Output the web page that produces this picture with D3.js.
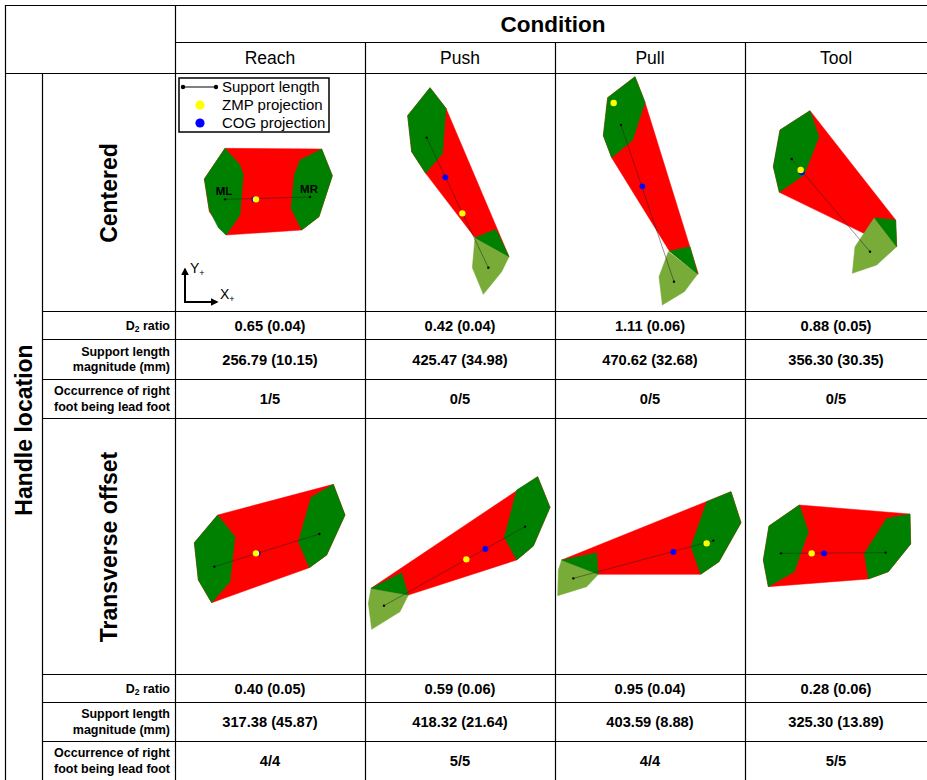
<!DOCTYPE html>
<html>
<head>
<meta charset="utf-8">
<script src="https://cdn.jsdelivr.net/npm/d3@7"></script>
<style>
  body { margin: 0; background: #fff; }
  text { font-family: "Liberation Sans", Arial, sans-serif; fill: #000; }
</style>
</head>
<body>
<svg id="chart" width="927" height="780"></svg>
<script>
// ------------------------------- DATA below ----------------------------------------------

const conditions = ['Reach', 'Push', 'Pull', 'Tool'];
const locations = ['Centered', 'Transverse offset'];

// table values, [location][condition]
const d2Mean = [[0.65, 0.42, 1.11, 0.88], [0.40, 0.59, 0.95, 0.28]];
const d2Sd = [[0.04, 0.04, 0.06, 0.05], [0.05, 0.06, 0.04, 0.06]];
const supportMean = [[256.79, 425.47, 470.62, 356.30], [317.38, 418.32, 403.59, 325.30]];
const supportSd = [[10.15, 34.98, 32.68, 30.35], [45.87, 21.64, 8.88, 13.89]];
const leadFoot = [['1/5', '0/5', '0/5', '0/5'], ['4/4', '5/5', '4/4', '5/5']];

// foot plane drawings, in mm from each cell's top-left corner (y pointing down the page)
// support polygon (red)
const supportPoly = [
  [
    [[150, 220], [440, 222], [472, 302], [432, 425], [380, 465], [153, 480], [103, 410], [88, 312]],
    [[195, 38], [243, 100], [432, 545], [330, 488], [182, 295], [140, 230], [128, 122]],
    [[240, 5], [270, 82], [430, 597], [343, 528], [170, 248], [145, 182], [158, 68]],
    [[195, 107], [452, 435], [455, 515], [350, 472], [103, 352], [85, 275], [105, 165]]
  ],
  [
    [[128, 285], [475, 193], [510, 285], [455, 405], [403, 443], [110, 548], [70, 480], [58, 368]],
    [[18, 505], [518, 170], [555, 262], [505, 378], [455, 420], [130, 525]],
    [[20, 420], [528, 215], [558, 308], [492, 425], [437, 463], [130, 463]],
    [[163, 255], [495, 282], [497, 372], [430, 455], [370, 477], [70, 500], [55, 420], [72, 318]]
  ]
];

// foot areas in contact (dark green)
const contactFeet = [
  [
    [[[150, 220], [195, 270], [205, 300], [195, 420], [153, 480], [130, 458], [103, 405], [88, 312]],
     [[375, 255], [440, 222], [472, 302], [432, 425], [380, 465], [348, 400], [358, 300]]],
    [[[195, 38], [243, 100], [233, 235], [182, 295], [140, 230], [128, 122]],
     [[330, 488], [393, 463], [432, 545]]],
    [[[240, 5], [270, 82], [233, 195], [170, 248], [145, 182], [158, 68]],
     [[343, 528], [405, 515], [428, 597]]],
    [[[195, 107], [222, 185], [177, 300], [103, 352], [85, 275], [105, 165]],
     [[388, 428], [452, 435], [455, 515]]]
  ],
  [
    [[[128, 285], [180, 350], [165, 485], [110, 548], [70, 480], [58, 368]],
     [[475, 193], [510, 285], [455, 405], [403, 443], [370, 365], [408, 232]]],
    [[[455, 210], [518, 170], [555, 262], [505, 378], [455, 420], [418, 352]],
     [[18, 505], [110, 458], [130, 525]]],
    [[[455, 245], [528, 215], [558, 308], [492, 425], [437, 463], [408, 380]],
     [[20, 420], [125, 398], [130, 463]]],
    [[[163, 255], [190, 335], [148, 455], [70, 500], [55, 420], [72, 318]],
     [[425, 295], [495, 282], [497, 372], [430, 455], [370, 477], [358, 400]]]
  ]
];

// lifted part of the trailing foot (light green)
const liftFeet = [
  [
    [],
    [[[330, 488], [432, 545], [410, 590], [355, 658], [322, 578]]],
    [[[340, 530], [428, 597], [388, 650], [322, 690], [312, 605]]],
    [[[388, 428], [455, 515], [395, 570], [322, 595], [330, 515]]]
  ],
  [
    [],
    [[[18, 505], [130, 525], [105, 575], [20, 628], [10, 550]]],
    [[[20, 420], [130, 463], [95, 500], [8, 527], [10, 450]]],
    []
  ]
];

// support length end points
const supportEnds = [
  [[[150, 373], [405, 366]], [[185, 188], [370, 578]], [[198, 150], [357, 620]], [[140, 252], [375, 530]]],
  [[[118, 440], [433, 342]], [[57, 557], [480, 320]], [[55, 475], [475, 362]], [[108, 400], [422, 398]]]
];

const zmp = [
  [[243, 373], [292, 415], [176, 84], [167, 285]],
  [[243, 400], [304, 418], [455, 370], [200, 400]]
];
const cog = [
  [[238, 373], [241, 307], [262, 334], [170, 292]],
  [[248, 400], [361, 387], [355, 396], [237, 400]]
];

// ------------------------------- LAYOUT below ----------------------------------------------

const colX = [175, 365, 555, 745, 935];
const imgRows = [[73, 311], [418, 674]];
const infoRows = [[311, 339, 379, 418], [674, 702, 741, 780]];
const mmPerPx = 3;

const svg = d3.select('#chart');
const grid = svg.append('g');
const body = svg.append('g');

// ------------------------------- DRAWINGS ----------------------------------------------

const polyLine = d3.line().curve(d3.curveLinearClosed);

locations.forEach((loc, li) => {
  conditions.forEach((cond, ci) => {
    const x = d3.scaleLinear().domain([0, mmPerPx]).range([colX[ci], colX[ci] + 1]);
    const y = d3.scaleLinear().domain([0, mmPerPx]).range([imgRows[li][0] + 2, imgRows[li][0] + 3]);
    const pt = (p) => [x(p[0]), y(p[1])];
    const g = body.append('g');

    g.append('path')
      .attr('d', polyLine(supportPoly[li][ci].map(pt)))
      .attr('fill', '#ff0000')
      .attr('stroke', '#ff0000')
      .attr('stroke-width', 0.5);

    g.selectAll('path.lift')
      .data(liftFeet[li][ci])
      .join('path')
      .attr('class', 'lift')
      .attr('d', (d) => polyLine(d.map(pt)))
      .attr('fill', '#78ab38')
      .attr('stroke', '#78ab38')
      .attr('stroke-width', 0.5);

    g.selectAll('path.contact')
      .data(contactFeet[li][ci])
      .join('path')
      .attr('class', 'contact')
      .attr('d', (d) => polyLine(d.map(pt)))
      .attr('fill', '#008000')
      .attr('stroke', '#008000')
      .attr('stroke-width', 0.5);

    const ends = supportEnds[li][ci].map(pt);
    g.append('line')
      .attr('x1', ends[0][0]).attr('y1', ends[0][1])
      .attr('x2', ends[1][0]).attr('y2', ends[1][1])
      .attr('stroke', '#222')
      .attr('stroke-opacity', 0.7)
      .attr('stroke-width', 0.7);
    g.selectAll('circle.end')
      .data(ends)
      .join('circle')
      .attr('class', 'end')
      .attr('cx', (d) => d[0])
      .attr('cy', (d) => d[1])
      .attr('r', 1.2)
      .attr('fill', '#000');

    const c = pt(cog[li][ci]);
    g.append('circle').attr('cx', c[0]).attr('cy', c[1]).attr('r', 2.9).attr('fill', '#0000ff');
    const z = pt(zmp[li][ci]);
    g.append('circle').attr('cx', z[0]).attr('cy', z[1]).attr('r', 3.2).attr('fill', '#ffff00');

    // ML / MR foot labels in the first drawing
    if (li === 0 && ci === 0) {
      g.selectAll('text.foot')
        .data(['ML', 'MR'])
        .join('text')
        .attr('class', 'foot')
        .attr('x', (d, i) => pt(supportEnds[0][0][i])[0] - 1)
        .attr('y', (d, i) => pt(supportEnds[0][0][i])[1] - 4)
        .attr('text-anchor', 'middle')
        .attr('font-size', 11.5)
        .attr('font-weight', 'bold')
        .text((d) => d);
    }
  });
});

// ------------------------------- LEGEND + AXES GLYPH ----------------------------------------------

const legend = body.append('g').attr('transform', 'translate(179,78)');
legend.append('rect').attr('width', 150).attr('height', 54)
  .attr('fill', '#fff').attr('stroke', '#000').attr('stroke-width', 1.5);
legend.append('line').attr('x1', 4).attr('x2', 37).attr('y1', 9).attr('y2', 9)
  .attr('stroke', '#000').attr('stroke-width', 1);
legend.selectAll('circle.e').data([4, 37]).join('circle')
  .attr('cx', (d) => d).attr('cy', 9).attr('r', 2.2).attr('fill', '#000');
legend.append('circle').attr('cx', 21).attr('cy', 27).attr('r', 4.6).attr('fill', '#ffff00');
legend.append('circle').attr('cx', 21).attr('cy', 45).attr('r', 4.6).attr('fill', '#0000ff');
legend.selectAll('text').data(['Support length', 'ZMP projection', 'COG projection']).join('text')
  .attr('x', 43).attr('y', (d, i) => 14 + i * 18)
  .attr('font-size', 15).text((d) => d);

const axG = body.append('g').attr('transform', 'translate(185,302)');
axG.append('defs').append('marker')
  .attr('id', 'arr').attr('viewBox', '0 0 10 10').attr('refX', 8).attr('refY', 5)
  .attr('markerWidth', 4).attr('markerHeight', 4).attr('orient', 'auto')
  .append('path').attr('d', 'M0,0L10,5L0,10Z').attr('fill', '#000');
axG.append('line').attr('x1', 0).attr('y1', 0).attr('x2', 0).attr('y2', -33)
  .attr('stroke', '#000').attr('stroke-width', 2).attr('marker-end', 'url(#arr)');
axG.append('line').attr('x1', -1).attr('y1', 0).attr('x2', 32).attr('y2', 0)
  .attr('stroke', '#000').attr('stroke-width', 2).attr('marker-end', 'url(#arr)');
[['Y', 5, -29], ['X', 35, -3]].forEach(([t, tx, ty]) => {
  const lab = axG.append('text').attr('x', tx).attr('y', ty).attr('font-size', 14).text(t);
  lab.append('tspan').attr('font-size', 9).attr('dy', 3).text('+');
});

// ------------------------------- TABLE GRID ----------------------------------------------

const hLines = [
  [5, 5, 935], [175, 42, 935], [5, 73, 935],
  [42, 311, 935], [42, 339, 935], [42, 379, 935], [42, 418, 935],
  [42, 674, 935], [42, 702, 935], [42, 741, 935]
];
grid.selectAll('line.h').data(hLines).join('line')
  .attr('x1', (d) => d[0]).attr('x2', (d) => d[2])
  .attr('y1', (d) => d[1] + 0.5).attr('y2', (d) => d[1] + 0.5)
  .attr('stroke', '#000').attr('stroke-width', 1.2);
const vLines = [[5, 5], [42, 73], [175, 5], [365, 42], [555, 42], [745, 42]];
grid.selectAll('line.v').data(vLines).join('line')
  .attr('x1', (d) => d[0] + 0.5).attr('x2', (d) => d[0] + 0.5)
  .attr('y1', (d) => d[1]).attr('y2', 780)
  .attr('stroke', '#000').attr('stroke-width', 1.2);

// ------------------------------- TABLE TEXT ----------------------------------------------

const colCenter = (i) => (colX[i] + Math.min(colX[i + 1], 927)) / 2;

svg.append('text').attr('x', 553).attr('y', 32).attr('text-anchor', 'middle')
  .attr('font-size', 22.5).attr('font-weight', 'bold').text('Condition');

svg.selectAll('text.cond').data(conditions).join('text')
  .attr('class', 'cond')
  .attr('x', (d, i) => colCenter(i)).attr('y', 64)
  .attr('text-anchor', 'middle').attr('font-size', 17.5).text((d) => d);

svg.append('text').attr('transform', 'translate(32,430) rotate(-90)')
  .attr('text-anchor', 'middle').attr('font-size', 23).attr('font-weight', 'bold')
  .text('Handle location');

svg.selectAll('text.loc').data(locations).join('text')
  .attr('class', 'loc')
  .attr('transform', (d, i) => `translate(117,${(imgRows[i][0] + imgRows[i][1]) / 2 + 1}) rotate(-90)`)
  .attr('text-anchor', 'middle').attr('font-size', 23).attr('font-weight', 'bold')
  .text((d) => d);

// row labels
const labelLines = [['D|2| ratio'], ['Support length', 'magnitude (mm)'], ['Occurrence of right', 'foot being lead foot']];
locations.forEach((loc, li) => {
  const rows = infoRows[li];
  labelLines.forEach((lines, ri) => {
    const mid = (rows[ri] + rows[ri + 1]) / 2;
    lines.forEach((ln, k) => {
      const t = svg.append('text')
        .attr('x', 170)
        .attr('y', mid + 4.5 + (k - (lines.length - 1) / 2) * 15.5)
        .attr('text-anchor', 'end').attr('font-size', 12.5).attr('font-weight', 'bold');
      if (ln.includes('|')) {
        const parts = ln.split('|');
        t.append('tspan').text(parts[0]);
        t.append('tspan').attr('font-size', 8.5).attr('dy', 2).text(parts[1]);
        t.append('tspan').attr('dy', -2).text(parts[2]);
      } else {
        t.text(ln);
      }
    });
  });

  const vals = [
    d2Mean[li].map((m, i) => `${m.toFixed(2)} (${d2Sd[li][i].toFixed(2)})`),
    supportMean[li].map((m, i) => `${m.toFixed(2)} (${supportSd[li][i].toFixed(2)})`),
    leadFoot[li]
  ];
  vals.forEach((row, ri) => {
    const mid = (rows[ri] + rows[ri + 1]) / 2;
    svg.selectAll(null).data(row).join('text')
      .attr('x', (d, i) => colCenter(i)).attr('y', mid + 5.5)
      .attr('text-anchor', 'middle').attr('font-size', 14.7).attr('font-weight', 'bold')
      .text((d) => d);
  });
});
</script>
</body>
</html>
